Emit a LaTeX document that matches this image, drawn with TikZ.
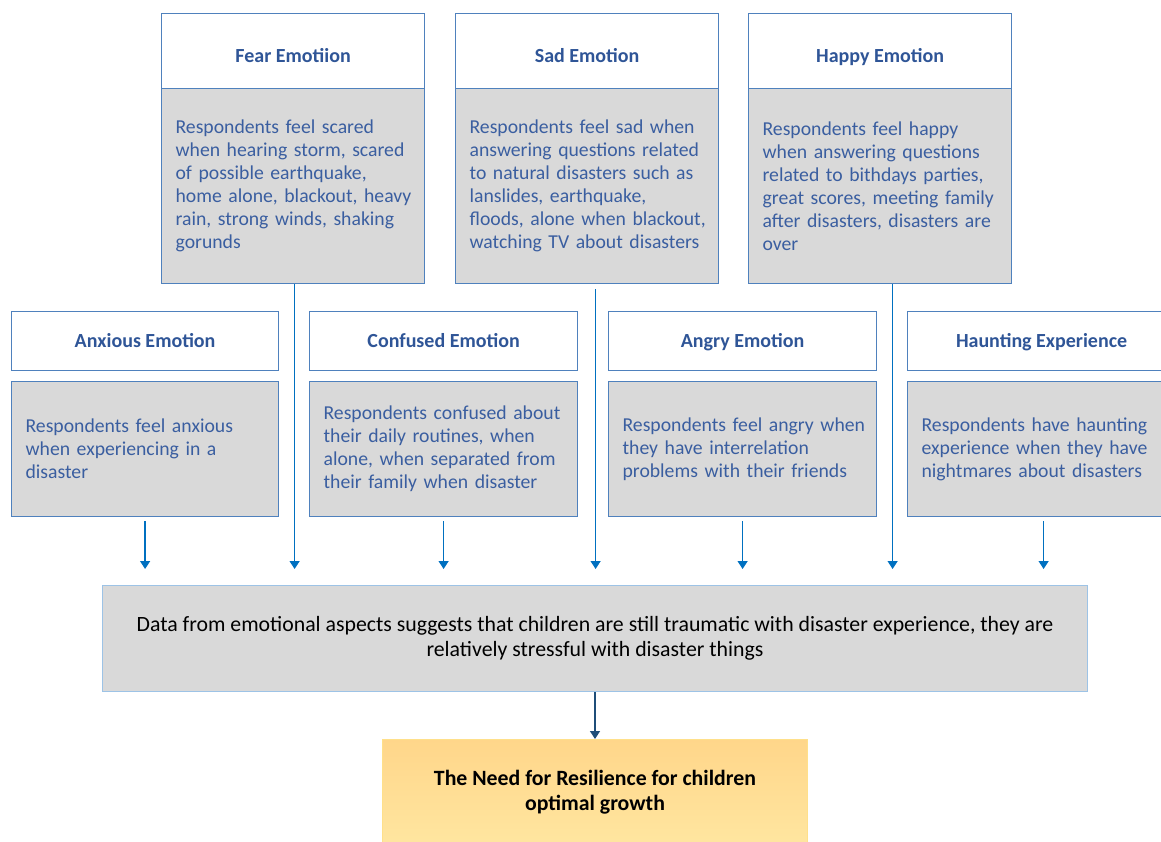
\documentclass[tikz,border=0pt]{standalone}
\usepackage{fontspec}
\setmainfont{Carlito}
\usetikzlibrary{arrows.meta,calc}
\definecolor{hdrblue}{HTML}{2F5597}
\definecolor{txtblue}{HTML}{3A5EA0}
\definecolor{bord}{HTML}{4F81BD}
\definecolor{boxgray}{HTML}{D9D9D9}
\definecolor{arrblue}{HTML}{0070C0}
\definecolor{darkarr}{HTML}{1F4E79}
\definecolor{ltblue}{HTML}{9DC3E6}
\definecolor{ybord}{HTML}{FFE08A}
\newcommand{\lne}[1]{\mbox{#1}}
\tikzset{
  hdr/.style={draw=bord, line width=1.2pt, fill=white, text=hdrblue,
    font=\bfseries\fontsize{20}{24}\selectfont, anchor=north west, inner sep=0pt},
  hdrtop/.style={hdr, text height=24pt, text depth=2pt},
  hdrlow/.style={hdr, text height=16pt, text depth=3pt},
  bodybox/.style={draw=bord, line width=1.2pt, fill=boxgray, text=txtblue,
    font=\fontsize{19.7}{23}\selectfont, anchor=north west, align=left,
    inner xsep=14pt, inner ysep=0pt},
  arr/.style={draw=arrblue, line width=1.3pt, -{Triangle[length=8pt,width=10pt]}},
}
\begin{document}
\begin{tikzpicture}[x=1pt,y=-1pt]
\useasboundingbox (0,0) rectangle (1161,842);
% top row
\node[hdrtop, minimum width=263pt, minimum height=75pt] (fearh) at (161,13) {Fear Emotiion};
\node[bodybox, minimum width=263pt, minimum height=195pt, text width=235pt] (fearb) at (161,88)
  {\lne{Respondents feel scared}\\\lne{when hearing storm, scared}\\\lne{of possible earthquake,}\\\lne{home alone, blackout, heavy}\\\lne{rain, strong winds, shaking}\\\lne{gorunds}};
\node[hdrtop, minimum width=263pt, minimum height=75pt] (sadh) at (455,13) {Sad Emotion};
\node[bodybox, minimum width=263pt, minimum height=195pt, text width=235pt] (sadb) at (455,88)
  {\lne{Respondents feel sad when}\\\lne{answering questions related}\\\lne{to natural disasters such as}\\\lne{lanslides, earthquake,}\\\lne{floods, alone when blackout,}\\\lne{watching TV about disasters}};
\node[hdrtop, minimum width=263pt, minimum height=75pt] (happyh) at (748,13) {Happy Emotion};
\node[bodybox, minimum width=263pt, minimum height=195pt, text width=235pt] (happyb) at (748,88)
  {\lne{Respondents feel happy}\\\lne{when answering questions}\\\lne{related to bithdays parties,}\\\lne{great scores, meeting family}\\\lne{after disasters, disasters are}\\\lne{over}};
% second row
\node[hdrlow, minimum width=267pt, minimum height=59pt] (anxh) at (11,311) {Anxious Emotion};
\node[bodybox, minimum width=267pt, minimum height=135pt, text width=239pt] (anxb) at (11,381)
  {\lne{Respondents feel anxious}\\\lne{when experiencing in a}\\\lne{disaster}};
\node[hdrlow, minimum width=268pt, minimum height=59pt] (confh) at (309,311) {Confused Emotion};
\node[bodybox, minimum width=268pt, minimum height=135pt, text width=240pt] (confb) at (309,381)
  {\lne{Respondents confused about}\\\lne{their daily routines, when}\\\lne{alone, when separated from}\\\lne{their family when disaster}};
\node[hdrlow, minimum width=268pt, minimum height=59pt] (angh) at (608,311) {Angry Emotion};
\node[bodybox, minimum width=268pt, minimum height=135pt, text width=240pt] (angb) at (608,381)
  {\lne{Respondents feel angry when}\\\lne{they have interrelation}\\\lne{problems with their friends}};
\node[hdrlow, minimum width=268pt, minimum height=59pt] (haunth) at (907,311) {Haunting Experience};
\node[bodybox, minimum width=268pt, minimum height=135pt, text width=240pt] (hauntb) at (907,381)
  {\lne{Respondents have haunting}\\\lne{experience when they have}\\\lne{nightmares about disasters}};
% summary
\node[draw=ltblue, line width=1pt, fill=boxgray, anchor=north west, minimum width=985pt,
  minimum height=106pt, align=center, inner sep=0pt, font=\fontsize{21.8}{25}\selectfont] (data) at (102,585)
  {Data from emotional aspects suggests that children are still traumatic with disaster experience, they are\\relatively stressful with disaster things};
\node[draw=ybord, line width=1pt, top color={rgb,255:red,255;green,214;blue,138},
  bottom color={rgb,255:red,255;green,230;blue,160}, anchor=north west, minimum width=425pt,
  minimum height=106pt, align=center, inner sep=0pt, font=\bfseries\fontsize{21.8}{25}\selectfont] (need) at (382,739)
  {The Need for Resilience for children\\optimal growth};
% arrow start and end points
\coordinate (endy) at (0,569);
\coordinate (fs) at ($(fearb.south)+(1.5,0)$);
\coordinate (ss) at ($(sadb.south)+(8.5,5)$);
\coordinate (hs) at ($(happyb.south)+(12.5,0)$);
\coordinate (as) at ($(anxb.south)+(0,4)$);
\coordinate (cs) at ($(confb.south)+(0,4)$);
\coordinate (gs) at ($(angb.south)+(0,4)$);
\coordinate (ts) at ($(hauntb.south)+(2,4)$);
\foreach \s in {fs,ss,hs,as,cs,gs,ts}{
  \draw[arr] (\s) -- (\s |- endy);
}
\draw[draw=darkarr, line width=1.3pt, -{Triangle[length=8pt,width=10pt]}] (data.south) -- (need.north);
\end{tikzpicture}
\end{document}
